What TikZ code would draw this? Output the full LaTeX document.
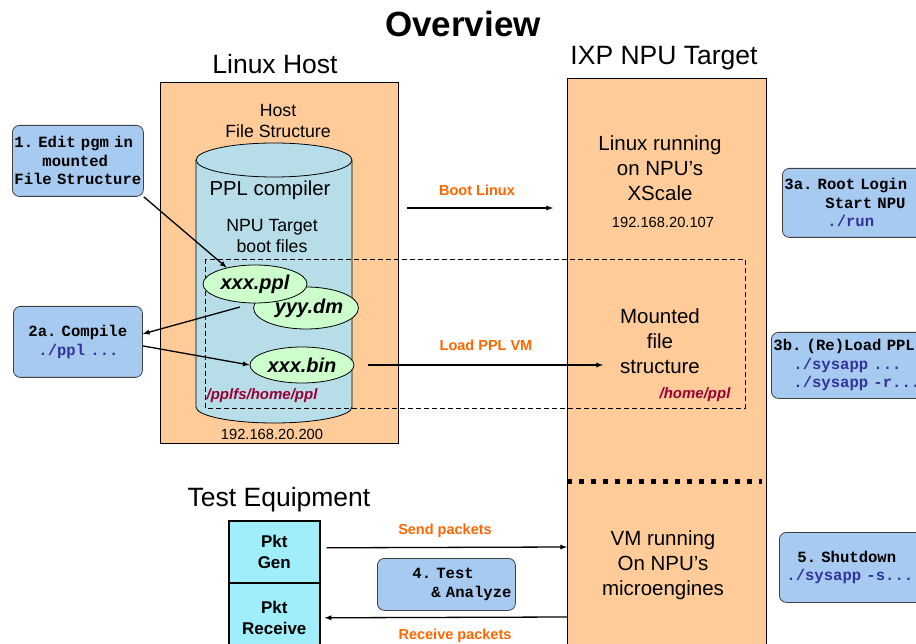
\documentclass[tikz,border=0pt]{standalone}
\usepackage{fontspec}
\setmainfont{Liberation Sans}
\newfontfamily\codefont{Liberation Mono}
\usetikzlibrary{shapes.geometric}
\definecolor{hostorange}{HTML}{FFCC99}
\definecolor{stepblue}{HTML}{A6CAF0}
\definecolor{cylteal}{HTML}{B7DEE8}
\definecolor{filegreen}{HTML}{CCFFCC}
\definecolor{pktcyan}{HTML}{A0EEFA}
\definecolor{linkorange}{HTML}{FF6600}
\definecolor{pathred}{HTML}{990033}
\definecolor{codeblue}{HTML}{333399}

\begin{document}
\begin{tikzpicture}[
  x=1pt, y=1pt,
  every node/.style={align=center, inner sep=0pt},
  hostbox/.style={draw, fill=hostorange, anchor=north west, line width=0.8pt},
  stepbox/.style={draw=black!75, fill=stepblue, rounded corners=7pt, anchor=north west,
    align=left, inner xsep=2pt, line width=0.8pt,
    font=\codefont\bfseries\fontsize{15.6}{18.5}\selectfont},
  fileell/.style={ellipse, draw, fill=filegreen, line width=0.8pt,
    font=\bfseries\itshape\fontsize{20}{24}\selectfont},
  pktbox/.style={draw, fill=pktcyan, line width=1.6pt, anchor=north west,
    minimum width=91pt, font=\bfseries\fontsize{17}{21}\selectfont},
  linklabel/.style={text=linkorange, font=\bfseries\fontsize{14.5}{17}\selectfont},
  pathlabel/.style={text=pathred, font=\bfseries\itshape\fontsize{15}{18}\selectfont},
  iplabel/.style={font=\fontsize{14.7}{17}\selectfont},
  heading/.style={font=\fontsize{26.5}{30}\selectfont},
  bodytext/.style={font=\fontsize{20.5}{25}\selectfont},
  smalltext/.style={font=\fontsize{17.7}{21}\selectfont},
  link/.style={draw, line width=1.3pt, -latex}
  ]

\useasboundingbox (0,0) rectangle (916,-644);
\fill[white] (0,0) rectangle (916,-644);
\clip (0,0) rectangle (916,-644);

\node[font=\bfseries\fontsize{35}{40}\selectfont] (title) at (463,-24) {Overview};
\node[heading] (hosttitle) at (275,-64) {Linux Host};
\node[heading] (npututitle) at (664,-58) {IXP NPU Target};
\node[heading] (testtitle) at (279,-500) {Test Equipment};

\node[hostbox, minimum width=238pt, minimum height=361pt] (hostbox) at (160,-82) {};
\node[hostbox, minimum width=199pt, minimum height=600pt] (npubox) at (567,-78) {};

\fill[cylteal] (196,-160) -- (196,-407)
  arc[start angle=180, end angle=360, x radius=78pt, y radius=16pt] -- (352,-160) -- cycle;
\draw[line width=0.8pt] (196,-160) -- (196,-407)
  arc[start angle=180, end angle=360, x radius=78pt, y radius=16pt] -- (352,-160);
\draw[fill=cylteal, line width=0.8pt] (274,-160) ellipse [x radius=78pt, y radius=17pt];

\node[smalltext] (hostfs) at (278,-121) {Host\\File Structure};
\node[font=\fontsize{20.3}{24}\selectfont] (compiler) at (270,-190) {PPL compiler};
\node[smalltext] (bootfiles) at (272,-236) {NPU Target\\boot files};
\node[iplabel] (hostip) at (272,-434) {192.168.20.200};

\draw[line width=0.8pt, dash pattern=on 5pt off 3pt] (205,-259) rectangle (745,-408);

\node[fileell, minimum width=102pt, minimum height=42pt] (dm) at (306,-308) {\hspace*{6pt}yyy.dm};
\node[fileell, minimum width=104pt, minimum height=38pt] (ppl) at (255,-284) {xxx.ppl};
\node[fileell, minimum width=104pt, minimum height=36pt] (bin) at (302,-365) {xxx.bin};
\node[pathlabel] (hostpath) at (262,-396) {/pplfs/home/ppl};

\node[bodytext] (xscale) at (660,-168) {Linux running\\on NPU’s\\XScale};
\node[iplabel] (npuip) at (663,-222) {192.168.20.107};
\node[bodytext] (mounted) at (660,-341) {Mounted\\file\\structure};
\node[pathlabel] (npupath) at (695,-395) {/home/ppl};
\draw[line width=5pt, dash pattern=on 5pt off 7pt] (567,-481) -- (762,-481);
\node[bodytext] (vm) at (663,-565) {VM running\\On NPU’s\\microengines};

\node[stepbox, text width=127pt, minimum height=71pt] (step1) at (12,-125)
  {1.~Edit~pgm~in\\\phantom{xxx}mounted\\File~Structure};
\node[stepbox, text width=125pt, minimum height=71pt] (step2a) at (13,-306)
  {\hspace*{13pt}2a.~Compile\\\hspace*{23pt}\textcolor{codeblue}{./ppl~...}};
\node[stepbox, text width=160pt, minimum height=69pt] (step3a) at (782,-168)
  {3a.~Root~Login\\\hspace*{41pt}Start~NPU\\\hspace*{43pt}\textcolor{codeblue}{./run}};
\node[stepbox, text width=170pt, minimum height=66pt] (step3b) at (771,-332)
  {3b.~(Re)Load~PPL\\\hspace*{20pt}\textcolor{codeblue}{./sysapp~...}\\\hspace*{20pt}\textcolor{codeblue}{./sysapp~-r...}};
\node[stepbox, text width=134pt, minimum height=52pt] (step4) at (377,-558)
  {\hspace*{33pt}4.~Test\\\hspace*{52pt}\&~Analyze};
\node[stepbox, text width=160pt, minimum height=70pt] (step5) at (779,-532)
  {\hspace*{16pt}5.~Shutdown\\\hspace*{5pt}\textcolor{codeblue}{./sysapp~-s...}};

\node[pktbox, minimum height=62pt] (pktgen) at (228,-520) {Pkt\\Gen};
\node[pktbox, minimum height=70pt] (pktrecv) at (228,-582) {Pkt\\Receive};

\coordinate (cmpsrc) at (240,-307);
\coordinate (bootsrc) at (407,-208);
\coordinate (bootdst) at (553,-208);
\coordinate (mntdst) at (603,-365);
\coordinate (senddst) at (567,-547);
\coordinate (recvsrc) at (567,-617);

\draw[link] (step1.south east) -- (ppl.150);
\draw[link] (cmpsrc) -- ([yshift=8pt]step2a.east);
\draw[link] ([yshift=-4pt]step2a.east) -- (bin.west);
\draw[link] (bootsrc) -- (bootdst);
\draw[link] ([xshift=14pt]bin.east) -- (mntdst);
\draw[link] ([xshift=6pt,yshift=4pt]pktgen.east) -- (senddst);
\draw[link] (recvsrc) -- ([xshift=4pt]pktrecv.east);

\node[linklabel] (bootlbl) at (477,-190) {Boot Linux};
\node[linklabel] (loadlbl) at (486,-345) {Load PPL VM};
\node[linklabel] (sendlbl) at (445,-531) {Send packets};
\node[linklabel] (recvlbl) at (455,-636) {Receive packets};

\end{tikzpicture}
\end{document}
